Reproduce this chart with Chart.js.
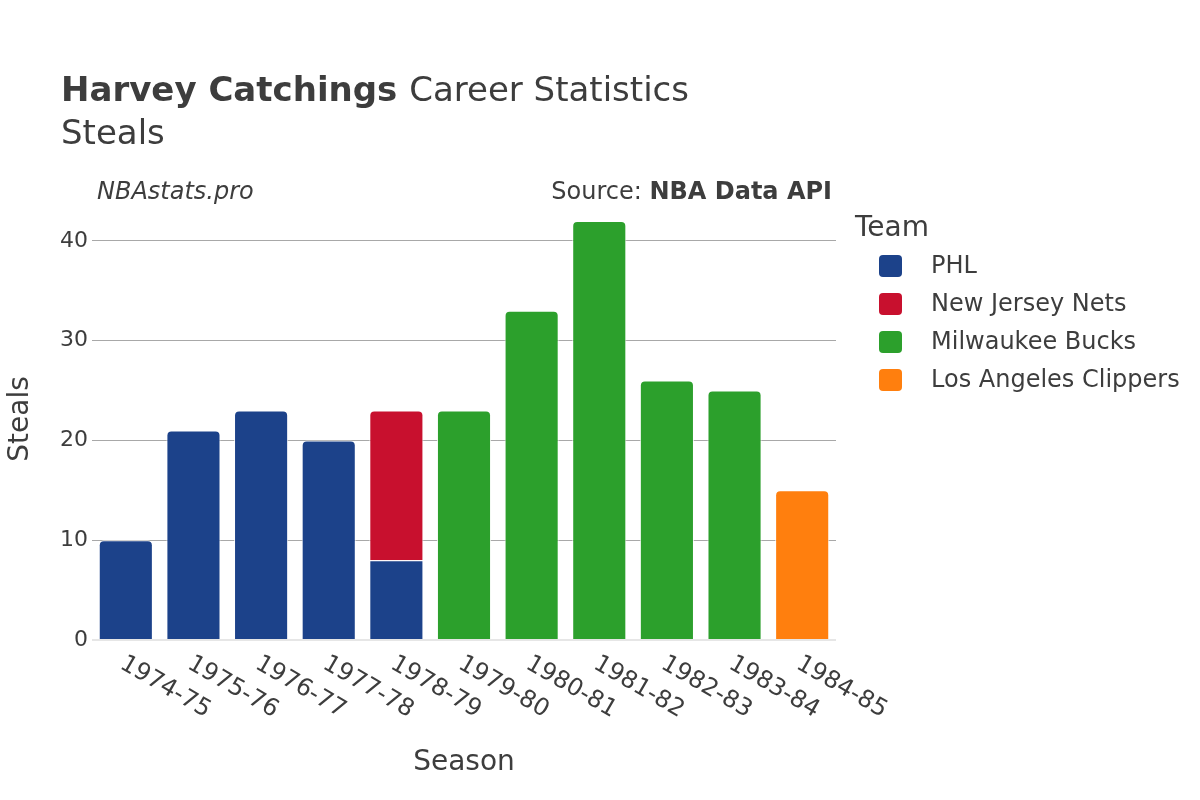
<!DOCTYPE html>
<html>
<head>
<meta charset="utf-8">
<script src="https://cdn.jsdelivr.net/npm/chart.js@4"></script>
<style>
  html, body { margin: 0; padding: 0; background: #fff; }
  #wrap { width: 1200px; height: 800px; }
</style>
</head>
<body>
<div id="wrap"><canvas id="stealsChart" width="1200" height="800"></canvas></div>
<script>
// 시즌 / 팀별 스틸 수
const seasons = ['1974-75', '1975-76', '1976-77', '1977-78', '1978-79', '1979-80',
  '1980-81', '1981-82', '1982-83', '1983-84', '1984-85'];
const teams = ['PHL', 'New Jersey Nets', 'Milwaukee Bucks', 'Los Angeles Clippers'];
const teamColors = ['#1c428a', '#c8102e', '#2ca02c', '#ff7f0e'];
const phlSteals = [10, 21, 23, 20, 8, null, null, null, null, null, null];
const njnSteals = [null, null, null, null, 15, null, null, null, null, null, null];
const milSteals = [null, null, null, null, null, 23, 33, 42, 26, 25, null];
const lacSteals = [null, null, null, null, null, null, null, null, null, null, 15];
const yTicks = [0, 10, 20, 30, 40];

const FONT = "'DejaVu Sans', sans-serif";
const TEXT = '#3d3d3d';

const seriesData = [phlSteals, njnSteals, milSteals, lacSteals];

// 위에 다른 팀 막대가 쌓이면 위쪽 모서리를 둥글게 하지 않음
function radiusFor(dsIndex) {
  return function (ctx) {
    const i = ctx.dataIndex;
    for (let k = dsIndex + 1; k < seriesData.length; k++) {
      if (seriesData[k][i] != null) return 0;
    }
    return { topLeft: 5, topRight: 5, bottomLeft: 0, bottomRight: 0 };
  };
}

const decorations = {
  id: 'decorations',
  afterDraw(chart) {
    const c = chart.ctx;
    const area = chart.chartArea;
    c.save();
    c.fillStyle = TEXT;
    c.textBaseline = 'alphabetic';
    // 제목
    c.textAlign = 'left';
    c.font = 'bold 34px ' + FONT;
    const boldPart = 'Harvey Catchings';
    c.fillText(boldPart, 61, 101);
    const w = c.measureText(boldPart + ' ').width;
    c.font = '34px ' + FONT;
    c.fillText('Career Statistics', 61 + w, 101);
    c.fillText('Steals', 61, 144);
    // 출처
    c.font = 'italic 24px ' + FONT;
    c.fillText('NBAstats.pro', 97, 199);
    c.textAlign = 'right';
    c.font = 'bold 24px ' + FONT;
    const src = 'NBA Data API';
    c.fillText(src, 832, 199);
    const sw = c.measureText(src).width;
    c.font = '24px ' + FONT;
    c.fillText('Source: ', 832 - sw, 199);
    // 축 제목
    c.textAlign = 'center';
    c.font = '28px ' + FONT;
    c.fillText('Season', (area.left + area.right) / 2, 770);
    c.save();
    c.translate(28, 419);
    c.rotate(-Math.PI / 2);
    c.fillText('Steals', 0, 0);
    c.restore();
    // x축 눈금 라벨 (오른쪽 아래로 기울임)
    const xs = chart.scales.x;
    c.font = '24px ' + FONT;
    c.textAlign = 'left';
    c.textBaseline = 'middle';
    seasons.forEach((s, i) => {
      const x = xs.getPixelForTick(i);
      c.save();
      c.translate(x - 4, 662);
      c.rotate(Math.PI / 6);
      c.fillText(s, 0, 0);
      c.restore();
    });
    // 범례
    c.textAlign = 'left';
    c.textBaseline = 'alphabetic';
    c.font = '28px ' + FONT;
    c.fillText('Team', 855, 236);
    c.font = '24px ' + FONT;
    c.textBaseline = 'middle';
    teams.forEach((t, i) => {
      const y = 266 + i * 38;
      c.fillStyle = teamColors[i];
      c.beginPath();
      c.roundRect(879, y - 11, 23, 22, 4);
      c.fill();
      c.fillStyle = TEXT;
      c.fillText(t, 931, y + 1);
    });
    c.restore();
  }
};

new Chart(document.getElementById('stealsChart'), {
  type: 'bar',
  data: {
    labels: seasons,
    datasets: teams.map((t, i) => ({
      label: t,
      data: seriesData[i],
      backgroundColor: teamColors[i],
      borderColor: 'rgba(255,255,255,0.8)',
      borderWidth: 1,
      borderSkipped: 'bottom',
      borderRadius: radiusFor(i),
      barPercentage: 0.8,
      categoryPercentage: 1.0
    }))
  },
  options: {
    responsive: false,
    animation: false,
    layout: { padding: { left: 0, right: 364, top: 201, bottom: 0 } },
    plugins: {
      legend: { display: false },
      tooltip: { enabled: false },
      title: { display: false }
    },
    scales: {
      x: {
        stacked: true,
        grid: { display: false },
        border: { display: false },
        ticks: { display: false },
        afterFit(scale) { scale.height = 160; }
      },
      y: {
        stacked: true,
        min: 0,
        max: 44,
        afterBuildTicks(scale) {
          scale.ticks = yTicks.map(v => ({ value: v }));
        },
        afterFit(scale) { scale.width = 92; },
        grid: {
          color: ctx => ctx.tick && ctx.tick.value === 0 ? '#e6e6e6' : '#a8a8a8',
          lineWidth: ctx => ctx.tick && ctx.tick.value === 0 ? 2 : 1,
          drawTicks: false
        },
        border: { display: false },
        ticks: {
          color: TEXT,
          font: { family: FONT, size: 22 },
          padding: 4
        }
      }
    }
  },
  plugins: [decorations]
});
</script>
</body>
</html>
